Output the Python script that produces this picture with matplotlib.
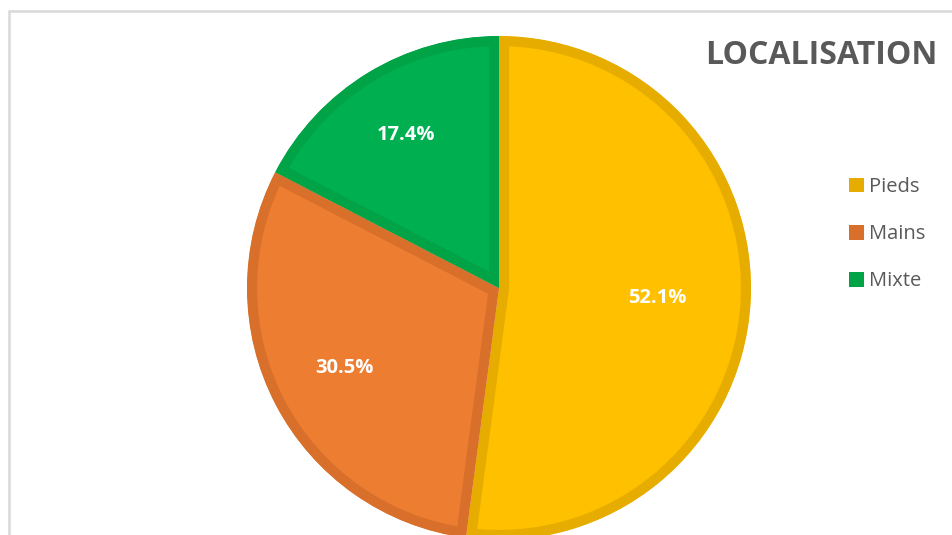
import matplotlib
matplotlib.use("Agg")
import numpy as np
import matplotlib.pyplot as plt
from matplotlib.patches import Rectangle

categories = ["Pieds", "Mains", "Mixte"]
values = [52.1, 30.5, 17.4]
fill_colors = ["#FFC000", "#ED7D31", "#00B050"]
edge_colors = ["#E6AD00", "#D86F2A", "#00A346"]
label_dist = [0.63, 0.69, 0.71]
title = "LOCALISATION"

W, H = 952, 535
fig = plt.figure(figsize=(W / 100, H / 100), dpi=100)
ax = fig.add_axes([0, 0, 1, 1])
ax.axis("off")

# chart frame
ax.add_patch(Rectangle((9, -20), W + 40, H - 11 + 20, fill=False,
                       edgecolor="#D9D9D9", linewidth=1.8, zorder=0))

cx, cy, r = 499, H - 288, 252
wedges, _, autotexts = ax.pie(
    values, colors=fill_colors, startangle=90, counterclock=False,
    center=(cx, cy), radius=r, autopct="%1.1f%%", pctdistance=0.66,
    frame=False, textprops=dict(color="white", fontsize=14.5, fontweight="bold",
                                family=["Open Sans", "DejaVu Sans"]))
ax.set_xlim(0, W)
ax.set_ylim(0, H)
ax.set_aspect("auto")

for w, ec, t, d in zip(wedges, edge_colors, autotexts, label_dist):
    w.set_edgecolor(ec)
    w.set_linewidth(14.5)
    w.set_clip_on(True)
    w.set_clip_path(w.get_path(), w.get_transform())
    w.set_joinstyle("miter")
    mid = np.deg2rad((w.theta1 + w.theta2) / 2)
    t.set_position((cx + d * r * np.cos(mid), cy + d * r * np.sin(mid)))

fig.text(938 / W, 1 - 56 / H, title, ha="right", va="center", fontsize=23,
         fontweight="bold", color="#595959", family=["Open Sans", "DejaVu Sans"])

leg = fig.legend(wedges, categories, loc="upper left", bbox_to_anchor=(831 / W, 1 - 159 / H),
                 frameon=False, labelcolor="#595959", handlelength=0.75,
                 handleheight=0.75, handletextpad=0.25, labelspacing=1.35,
                 prop=dict(family=["Open Sans", "DejaVu Sans"], size=14.5))
for h, c in zip(leg.legend_handles, edge_colors):
    h.set_facecolor(c)
    h.set_edgecolor(c)
    h.set_linewidth(0)
    h.set_clip_path(None)

fig.savefig("out.png", dpi=100)
